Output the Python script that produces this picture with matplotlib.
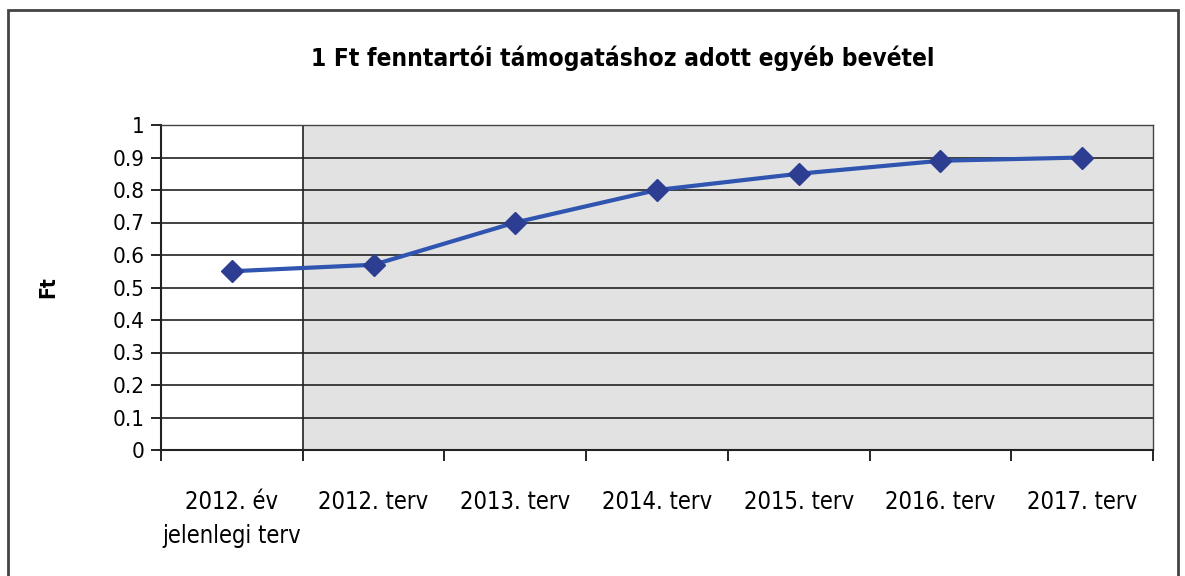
import numpy as np
import matplotlib.pyplot as plt
from matplotlib.patches import Rectangle

categories = ['2012. év\njelenlegi terv', '2012. terv', '2013. terv', '2014. terv',
              '2015. terv', '2016. terv', '2017. terv']
values = [0.55, 0.57, 0.70, 0.80, 0.85, 0.89, 0.90]
yticks = [0, 0.1, 0.2, 0.3, 0.4, 0.5, 0.6, 0.7, 0.8, 0.9, 1]
ytick_labels = ['0', '0.1', '0.2', '0.3', '0.4', '0.5', '0.6', '0.7', '0.8', '0.9', '1']

plt.rcParams['font.family'] = ['DejaVu Sans']
plt.rcParams['font.stretch'] = 'condensed'

fig = plt.figure(figsize=(11.85, 5.76), dpi=100)
fig.patches.append(Rectangle((8 / 1185, -0.1), 1170 / 1185, 1.1 - 10 / 576,
                             transform=fig.transFigure, fill=False,
                             edgecolor='#444444', linewidth=2))

ax = fig.add_axes([161 / 1185, 126 / 576, 992 / 1185, 325 / 576])
x = np.arange(len(categories))
ax.set_xlim(-0.5, len(categories) - 0.5)
ax.set_ylim(0, 1)

ax.axvspan(0.5, len(categories) - 0.5, color='#e2e2e2', zorder=0)
ax.axvline(0.5, color='#222222', linewidth=1.2, zorder=1)
for t in yticks:
    ax.axhline(t, color='#222222', linewidth=1.2, zorder=1)

ax.plot(x, values, color='#2f55b0', linewidth=3, marker='D', markersize=11,
        markerfacecolor='#2c3d92', markeredgecolor='#2c3d92', zorder=3)

ax.set_yticks(yticks)
ax.set_yticklabels(ytick_labels, fontsize=16)
ax.set_xticks(np.arange(-0.5, len(categories) + 0.5, 1), minor=False)
ax.set_xticklabels([])
ax.set_xticks(x, minor=True)
ax.set_xticklabels(categories, minor=True, fontsize=17, linespacing=1.5)
ax.tick_params(axis='x', which='minor', length=0, pad=29)
ax.tick_params(axis='x', which='major', length=8, width=1.2, direction='out')
ax.tick_params(axis='y', length=7, width=1.2, direction='out', pad=5)

for s in ['left', 'bottom']:
    ax.spines[s].set_linewidth(1.5)
    ax.spines[s].set_color('#222222')
for s in ['top', 'right']:
    ax.spines[s].set_linewidth(1.0)
    ax.spines[s].set_color('#444444')

ax.set_ylabel('Ft', fontsize=15, fontweight='bold', labelpad=39)
fig.text(623 / 1185, 1 - 58 / 576, '1 Ft fenntartói támogatáshoz adott egyéb bevétel',
         ha='center', va='center', fontsize=17.6, fontweight='bold')

plt.savefig('out.png', dpi=100)
